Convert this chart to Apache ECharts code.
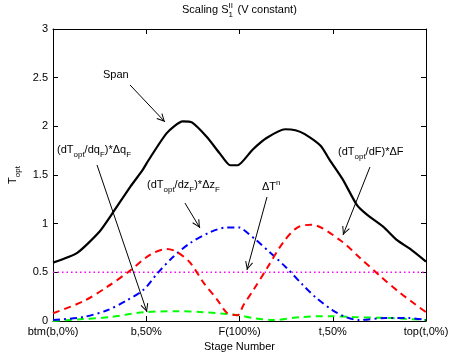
<!DOCTYPE html>
<html>
<head>
<meta charset="utf-8">
<script src="https://cdn.jsdelivr.net/npm/echarts@6/dist/echarts.min.js"></script>
<style>html,body{margin:0;padding:0;background:#fff}#c{width:451px;height:353px}</style>
</head>
<body>
<div id="c"></div>
<script>
// ---- data (x in stage units: 0 = btm, 2 = feed, 4 = top) ----
const xTickLabels = ['btm(b,0%)', 'b,50%', 'F(100%)', 't,50%', 'top(t,0%)'];

const spanX = [0, 0.26, 0.50, 0.64, 0.83, 0.96, 1.01, 1.22, 1.39, 1.49, 1.65, 1.79, 1.90, 1.98, 2.14, 2.29, 2.49, 2.60, 2.70, 2.87, 2.97, 3.11, 3.26, 3.37, 3.54, 3.69, 3.83, 4.00];
const spanY = [0.60, 0.70, 0.92, 1.11, 1.38, 1.55, 1.63, 1.93, 2.05, 2.04, 1.89, 1.72, 1.60, 1.60, 1.76, 1.88, 1.97, 1.96, 1.92, 1.80, 1.65, 1.45, 1.19, 1.09, 0.97, 0.83, 0.74, 0.61];

const dFX = [0, 0.32, 0.58, 0.83, 1.04, 1.22, 1.33, 1.47, 1.61, 1.76, 1.87, 1.98, 2.04, 2.15, 2.30, 2.47, 2.62, 2.77, 3.08, 3.29, 3.51, 3.72, 4.00];
const dFY = [0.08, 0.20, 0.35, 0.52, 0.68, 0.74, 0.71, 0.60, 0.40, 0.22, 0.08, 0.06, 0.16, 0.32, 0.55, 0.81, 0.96, 0.99, 0.83, 0.65, 0.46, 0.29, 0.09];

const dzX = [0, 0.32, 0.58, 0.79, 0.97, 1.12, 1.29, 1.47, 1.68, 1.86, 2.00, 2.04, 2.18, 2.32, 2.50, 2.68, 2.82, 3.00, 3.14, 3.28, 3.57, 3.82, 4.00];
const dzY = [0.01, 0.04, 0.11, 0.21, 0.32, 0.49, 0.66, 0.80, 0.91, 0.96, 0.96, 0.94, 0.83, 0.71, 0.55, 0.37, 0.24, 0.11, 0.04, 0.01, 0.03, 0.03, 0.01];

const dqX = [0, 0.32, 0.61, 0.97, 1.33, 1.61, 1.98, 2.15, 2.36, 2.65, 2.97, 3.22, 3.61, 4.00];
const dqY = [0.00, 0.02, 0.04, 0.09, 0.10, 0.09, 0.06, 0.03, 0.01, 0.04, 0.05, 0.04, 0.03, 0.01];

const dTnX = [0, 4];
const dTnY = [0.5, 0.5];

// annotation arrows: [fromX, fromY, toX, toY]
const arrows = [
  [0.826, 2.425, 1.201, 2.045],
  [0.472, 1.603, 1.008, 0.092],
  [1.415, 1.212, 1.576, 0.955],
  [2.295, 1.274, 2.080, 0.524],
  [3.399, 1.582, 3.110, 0.884]
];

const zip = (xs, ys) => xs.map((x, i) => [x, ys[i]]);

const FF = 'Liberation Sans, Arial, sans-serif';
const base = {fontFamily: FF, fontWeight: 'normal', color: '#000'};
const richModel = {
  n: Object.assign({fontSize: 11, lineHeight: 12, padding: [3, 0, 3, 0]}, base),
  sub: Object.assign({fontSize: 8, lineHeight: 9, padding: [9, 0, 0, 0]}, base),
  sup: Object.assign({fontSize: 8, lineHeight: 9, padding: [0, 0, 9, 0]}, base),
  sup0: Object.assign({fontSize: 8, lineHeight: 9, padding: [0, 0, 9, 0], width: 0}, base),
  sub1: Object.assign({fontSize: 8, lineHeight: 9, padding: [9, 0, 0, 0], width: 6}, base)
};
const richG = {};
Object.keys(richModel).forEach(k => { richG[k] = Object.assign({}, richModel[k], {fill: '#000'}); delete richG[k].color; });

function gText(x, y, text) {
  return {type: 'text', x: x, y: y, silent: true,
    style: {text: text, rich: richG, align: 'left', verticalAlign: 'top', fill: '#000', font: '11px ' + FF}};
}

const arrowSymbol = 'path://M4,12 L8,20 L7.1,20.5 L4,14.2 L0.9,20.5 L0,20 Z M4,0 L4.01,0 L4,0.01 Z M4,24 L4.01,24 L4,23.99 Z';

const chart = echarts.init(document.getElementById('c'), null, {renderer: 'canvas'});
const axisCommon = {
  type: 'value', min: 0, max: 4, interval: 1,
  axisLine: {show: true, onZero: false, lineStyle: {color: '#000', width: 1}},
  axisTick: {show: true, inside: true, length: 5, lineStyle: {color: '#000'}},
  splitLine: {show: false}
};
chart.setOption({
  animation: false,
  backgroundColor: '#fff',
  title: {
    text: '{n|Scaling S}{sup0|II}{sub1|1}{n| (V constant)}',
    left: 182, top: 4, padding: 0,
    textStyle: {fontWeight: 'normal', rich: richModel}
  },
  grid: {left: 53, right: 25, top: 29, bottom: 32, containLabel: false, outerBoundsMode: 'none'},
  xAxis: [
    Object.assign({}, axisCommon, {
      position: 'bottom',
      name: 'Stage Number', nameLocation: 'middle', nameGap: 18,
      nameTextStyle: {fontSize: 11, fontFamily: FF, color: '#000'},
      axisLabel: {show: true, margin: 5, fontSize: 11, fontFamily: FF, color: '#000',
        formatter: v => xTickLabels[Math.round(v)] || ''}
    }),
    Object.assign({}, axisCommon, {position: 'top', axisLabel: {show: false}})
  ],
  yAxis: [
    {
      type: 'value', min: 0, max: 3, interval: 0.5, position: 'left',
      axisLine: {show: true, onZero: false, lineStyle: {color: '#000'}},
      axisTick: {show: true, inside: true, length: 5, lineStyle: {color: '#000'}},
      splitLine: {show: false},
      axisLabel: {margin: 5, fontSize: 11, fontFamily: FF, color: '#000', formatter: v => String(v)},
      name: '{n|T}{sub|opt}', nameLocation: 'middle', nameGap: 28, nameRotate: 90,
      nameTextStyle: {rich: richModel}
    },
    {
      type: 'value', min: 0, max: 3, interval: 0.5, position: 'right',
      axisLine: {show: true, onZero: false, lineStyle: {color: '#000'}},
      axisTick: {show: true, inside: true, length: 5, lineStyle: {color: '#000'}},
      splitLine: {show: false}, axisLabel: {show: false}
    }
  ],
  series: [
    {type: 'line', name: 'dTn', data: zip(dTnX, dTnY), showSymbol: false,
      lineStyle: {color: '#ff00ff', width: 1.5, type: [1.5, 3]},
      markLine: {
        silent: true, symbol: ['none', arrowSymbol], symbolSize: [8, 24],
        label: {show: false}, emphasis: {disabled: true},
        lineStyle: {color: '#000', width: 1, type: 'solid'},
        itemStyle: {color: '#000'},
        data: arrows.map(a => [{coord: [a[0], a[1]]}, {coord: [a[2], a[3]]}])
      }
    },
    {type: 'line', name: 'dq', data: zip(dqX, dqY), showSymbol: false, smooth: 0.3,
      lineStyle: {color: '#00ff00', width: 2, type: [7, 5]}},
    {type: 'line', name: 'dz', data: zip(dzX, dzY), showSymbol: false, smooth: 0.3,
      lineStyle: {color: '#0000ff', width: 2, type: [7, 4, 2, 4]}},
    {type: 'line', name: 'dF', data: zip(dFX, dFY), showSymbol: false, smooth: 0.3,
      lineStyle: {color: '#ff0000', width: 2, type: [7, 5]}},
    {type: 'line', name: 'Span', data: zip(spanX, spanY), showSymbol: false, smooth: 0.2,
      lineStyle: {color: '#000', width: 2.2}}
  ],
  graphic: [
    gText(103, 69, '{n|Span}'),
    gText(57, 144, '{n|(dT}{sub|opt}{n|/dq}{sub|F}{n|)*Δq}{sub|F}'),
    gText(147, 179, '{n|(dT}{sub|opt}{n|/dz}{sub|F}{n|)*Δz}{sub|F}'),
    gText(262, 181, '{n|ΔT}{sup|n}'),
    gText(338, 146, '{n|(dT}{sub|opt}{n|/dF)*ΔF}')
  ]
});
</script>
</body>
</html>
